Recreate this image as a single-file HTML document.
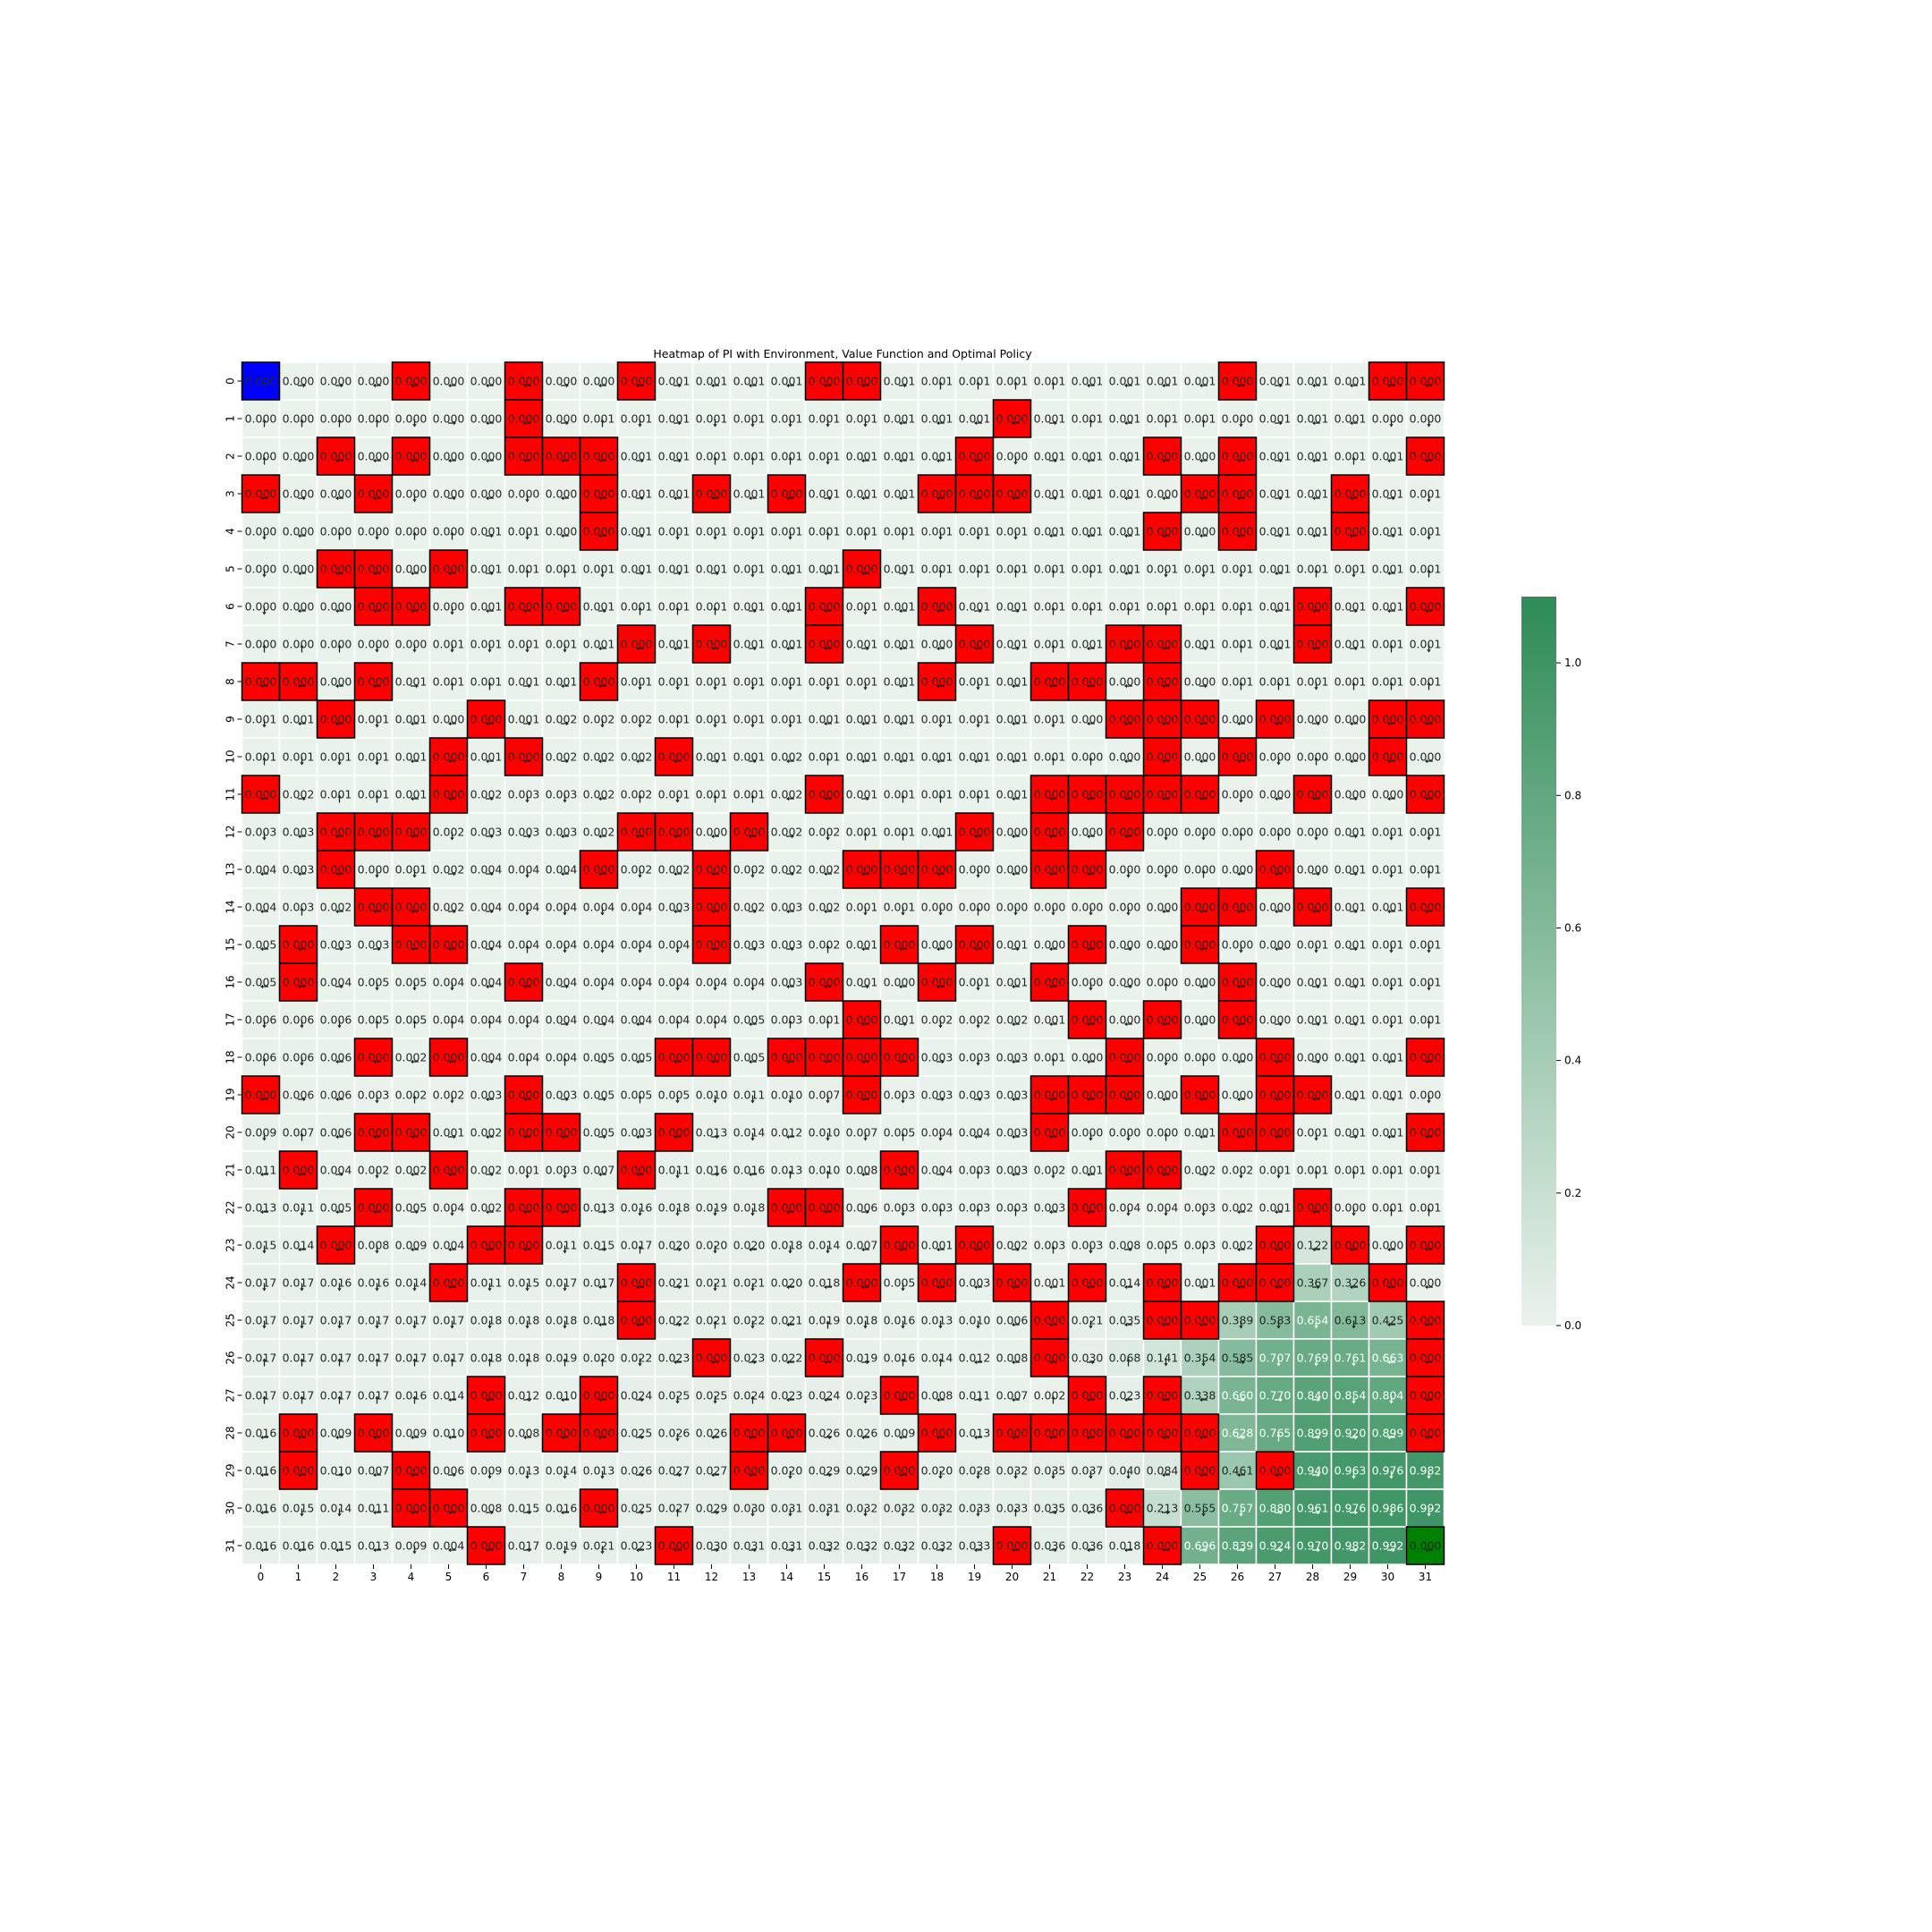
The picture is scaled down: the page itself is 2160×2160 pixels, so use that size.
<!DOCTYPE html>
<html><head><meta charset="utf-8"><title>Heatmap of PI</title>
<style>html,body{margin:0;padding:0;background:#fff}svg{display:block}</style></head>
<body>
<svg id="chart" width="2160" height="2160" viewBox="0 0 2160 2160" xmlns="http://www.w3.org/2000/svg" font-family="DejaVu Sans, Liberation Sans, sans-serif">
<rect x="0" y="0" width="2160" height="2160" fill="#fff"/>
<text x="942" y="400" text-anchor="middle" font-size="12.5" fill="#000">Heatmap of PI with Environment, Value Function and Optimal Policy</text>
<g id="cells"></g>
<g id="axes"></g>
<defs><linearGradient id="cbgrad" x1="0" y1="1" x2="0" y2="0"><stop offset="0" stop-color="rgb(234,242,236)"/><stop offset="1" stop-color="rgb(46,139,87)"/></linearGradient></defs>
<g id="cbar"></g>
</svg>
<script>
const cellTypes = [
"S...H..H..H....HH.........H...HH",
".......H............H...........",
"..H.H..HHH.........H....H.H....H",
"H..H.....H..H.H...HHH....HH..H..",
".........H..............H.H..H..",
"..HH.H..........H...............",
"...HH..HH......H..H.........H..H",
"..........H.H..H...H...HH...H...",
"HH.H.....H........H..HH.H.......",
"..H...H................HHH.H..HH",
".....H.H...H............H.H...H.",
"H....H.........H.....HHHHH..H..H",
"..HHH.....HH.H.....H.H.H........",
"..H......H..H...HHH..HH....H....",
"...HH.......H............HH.H..H",
".H..HH......H....H.H..H..H......",
".H.....H.......H..H..H....H.....",
"................H.....H.H.H.....",
"...H.H.....HH.HHHH.....H...H...H",
"H......H........H....HHH.H.HH...",
"...HH..HH..H.........H....HH...H",
".H...H....H......H.....HH.......",
"...H...HH.....HH......H.....H...",
"..H...HH.........H.H.......H.H.H",
".....H....H.....H.H.H.H.H.HH..H.",
"..........H..........H..HH.....H",
"............H..H.....H.........H",
"......H..H.......H....H.H......H",
".H.H..H.HH...HH...H.HHHHHH.....H",
".H..H........H...H.......H.H....",
"....HH...H.............H........",
"......H....H........H...H......G"
];
const policy = [
"urrlllllrllrlllllruuuulllllrllll",
"uuuudrllrudrdddddllllruluudrlldd",
"ulllllllllrruuudlllldrlllllrlull",
"lrlldrldllrllllrlllllrlllllrllrd",
"dluduurdllrdddduuudddllllllrllrd",
"dlllllruudrrrdlllruuuuuldddludlu",
"dlllldlllruuurlldllrruuuuuullrll",
"uuuddddddllllrllrlllrulllrullrud",
"llllruurlldddddddlldlllllruuduuu",
"dlldlllrrddudddlllddldllllllrlll",
"udddllllrlllrrlullllluulllldulll",
"lruullrddluduullruuulllllldllrll",
"dlllldrrllllllrduulllllldduudrdd",
"lllddrrdlldlldrlllldlllddullrrdu",
"lulllrrddddllrllddduddddlllllrll",
"llrrllruddddlrrullllrllrlldldrdd",
"llrdddllrdddddllrlldlldrullrrrdd",
"ddduuuudrrluuluulrddlllllllrrrdu",
"udllllruurllllllllrdlulldullrrll",
"lrldudllrrudddddldrrlllllllllrrd",
"dulllrlllrllrdlddudlllddullldrll",
"llrdllrddlldrluullruldlllrdduuud",
"ldllrdlllrddddllrduuulldddlllduu",
"dlldlllldrurdlddllllrudruullllll",
"dddddldddllrddllldllllllllllrlll",
"dddddddddllrudluddddlldlllddddll",
"uuuuuuuuuudllrllruulllruddrdddll",
"uuuuullrllrddulldllrlullllrrrddll",
"llllllllllrdlllrllllllllllrurrll",
"llrllrddddrrlldrllddddddllllrddd",
"lddlllrrllrurdddddddurllrddrrrdd",
"lllldllrddllrrrrrrrllrlllrrrrrrl"
];
const valuesMilli = [
[0,0,0,0,0,0,0,0,0,0,0,1,1,1,1,0,0,1,1,1,1,1,1,1,1,1,0,1,1,1,0,0],
[0,0,0,0,0,0,0,0,0,1,1,1,1,1,1,1,1,1,1,1,0,1,1,1,1,1,0,1,1,1,0,0],
[0,0,0,0,0,0,0,0,0,0,1,1,1,1,1,1,1,1,1,0,0,1,1,1,0,0,0,1,1,1,1,0],
[0,0,0,0,0,0,0,0,0,0,1,1,0,1,0,1,1,1,0,0,0,1,1,1,0,0,0,1,1,0,1,1],
[0,0,0,0,0,0,1,1,0,0,1,1,1,1,1,1,1,1,1,1,1,1,1,1,0,0,0,1,1,0,1,1],
[0,0,0,0,0,0,1,1,1,1,1,1,1,1,1,1,0,1,1,1,1,1,1,1,1,1,1,1,1,1,1,1],
[0,0,0,0,0,0,1,0,0,1,1,1,1,1,1,0,1,1,0,1,1,1,1,1,1,1,1,1,0,1,1,0],
[0,0,0,0,0,1,1,1,1,1,0,1,0,1,1,0,1,1,0,0,1,1,1,0,0,1,1,1,0,1,1,1],
[0,0,0,0,1,1,1,1,1,0,1,1,1,1,1,1,1,1,0,1,1,0,0,0,0,0,1,1,1,1,1,1],
[1,1,0,1,1,0,0,1,2,2,2,1,1,1,1,1,1,1,1,1,1,1,0,0,0,0,0,0,0,0,0,0],
[1,1,1,1,1,0,1,0,2,2,2,0,1,1,2,1,1,1,1,1,1,1,0,0,0,0,0,0,0,0,0,0],
[0,2,1,1,1,0,2,3,3,2,2,1,1,1,2,0,1,1,1,1,1,0,0,0,0,0,0,0,0,0,0,0],
[3,3,0,0,0,2,3,3,3,2,0,0,0,0,2,2,1,1,1,0,0,0,0,0,0,0,0,0,0,1,1,1],
[4,3,0,0,1,2,4,4,4,0,2,2,0,2,2,2,0,0,0,0,0,0,0,0,0,0,0,0,0,1,1,1],
[4,3,2,0,0,2,4,4,4,4,4,3,0,2,3,2,1,1,0,0,0,0,0,0,0,0,0,0,0,1,1,0],
[5,0,3,3,0,0,4,4,4,4,4,4,0,3,3,2,1,0,0,0,1,0,0,0,0,0,0,0,1,1,1,1],
[5,0,4,5,5,4,4,0,4,4,4,4,4,4,3,0,1,0,0,1,1,0,0,0,0,0,0,0,1,1,1,1],
[6,6,6,5,5,4,4,4,4,4,4,4,4,5,3,1,0,1,2,2,2,1,0,0,0,0,0,0,1,1,1,1],
[6,6,6,0,2,0,4,4,4,5,5,0,0,5,0,0,0,0,3,3,3,1,0,0,0,0,0,0,0,1,1,0],
[0,6,6,3,2,2,3,0,3,5,5,5,10,11,10,7,0,3,3,3,3,0,0,0,0,0,0,0,0,1,1,0],
[9,7,6,0,0,1,2,0,0,5,3,0,13,14,12,10,7,5,4,4,3,0,0,0,0,1,0,0,1,1,1,0],
[11,0,4,2,2,0,2,1,3,7,0,11,16,16,13,10,8,0,4,3,3,2,1,0,0,2,2,1,1,1,1,1],
[13,11,5,0,5,4,2,0,0,13,16,18,19,18,0,0,6,3,3,3,3,3,0,4,4,3,2,1,0,0,1,1],
[15,14,0,8,9,4,0,0,11,15,17,20,20,20,18,14,7,0,1,0,2,3,3,8,5,3,2,0,122,0,0,0],
[17,17,16,16,14,0,11,15,17,17,0,21,21,21,20,18,0,5,0,3,0,1,0,14,0,1,0,0,367,326,0,0],
[17,17,17,17,17,17,18,18,18,18,0,22,21,22,21,19,18,16,13,10,6,0,21,35,0,0,389,583,654,613,425,0],
[17,17,17,17,17,17,18,18,19,20,22,23,0,23,22,0,19,16,14,12,8,0,30,68,141,354,585,707,769,761,663,0],
[17,17,17,17,16,14,0,12,10,0,24,25,25,24,23,24,23,0,8,11,7,2,0,23,0,338,660,770,840,854,804,0],
[16,0,9,0,9,10,0,8,0,0,25,26,26,0,0,26,26,9,0,13,0,0,0,0,0,0,628,765,899,920,899,0],
[16,0,10,7,0,6,9,13,14,13,26,27,27,0,20,29,29,0,20,28,32,35,37,40,84,0,461,0,940,963,976,982],
[16,15,14,11,0,0,8,15,16,0,25,27,29,30,31,31,32,32,32,33,33,35,36,0,213,555,757,880,961,976,986,992],
[16,16,15,13,9,4,0,17,19,21,23,0,30,31,31,32,32,32,32,33,0,36,36,18,0,696,839,924,970,982,992,0]
];
const colorbarTicks = [0.0, 0.2, 0.4, 0.6, 0.8, 1.0];
const colorMax = 1.1;

const NS = "http://www.w3.org/2000/svg";
const GX = 270.5, GY = 405, CS = 42, N = 32;
const xPos = c => GX + c * CS;
const yPos = r => GY + r * CS;
const LO = [234,242,236], HI = [46,139,87];
function cmap(v){
  let t = Math.max(0, Math.min(1, v / colorMax));
  return LO.map((a,i)=>Math.round(a + (HI[i]-a)*t));
}
function lum(rgb){
  const f = rgb.map(c=>{c/=255;return c<=0.03928?c/12.92:Math.pow((c+0.055)/1.055,2.4);});
  return 0.2126*f[0]+0.7152*f[1]+0.0722*f[2];
}
function mk(tag, attrs, parent){
  const e = document.createElementNS(NS, tag);
  for (const k in attrs) e.setAttribute(k, attrs[k]);
  parent.appendChild(e);
  return e;
}
const cellsG = document.getElementById('cells');
const baseG = mk('g', {}, cellsG);
const overG = mk('g', {}, cellsG);
const annG = mk('g', {}, cellsG);
const DIRS = {u:[0,-1], d:[0,1], l:[-1,0], r:[1,0]};
for (let r = 0; r < N; r++){
  for (let c = 0; c < N; c++){
    const t = cellTypes[r][c];
    const v = valuesMilli[r][c] / 1000;
    let fill, col = cmap(v);
    if (t === 'H') fill = '#ff0000';
    else if (t === 'S') fill = '#0000ff';
    else if (t === 'G') fill = '#008000';
    else fill = `rgb(${col[0]},${col[1]},${col[2]})`;
    const special = t !== '.';
    const rect = mk('rect', {x:xPos(c), y:yPos(r), width:CS, height:CS, fill:fill,
      stroke: special ? '#000' : '#fff', 'stroke-width': 1.5}, special ? overG : baseG);
    
    
    const cx = xPos(c) + CS/2, cy = yPos(r) + CS/2;
    const dark = (t === '.' && lum(col) < 0.408);
    const txt = mk('text', {x:cx, y:cy, 'text-anchor':'middle', 'dominant-baseline':'central',
      'font-size':12.5, fill: dark ? '#ffffff' : '#262626'}, annG);
    txt.textContent = v.toFixed(3);
    
    
    const d = DIRS[policy[r][c]] || DIRS.l;
    const ax = cx + 4, ay = cy + 5, L = 4.5;
    const x1 = ax - d[0]*L, y1 = ay - d[1]*L, x2 = ax + d[0]*L, y2 = ay + d[1]*L;
    const px = -d[1], py = d[0];
    const hx = x2 - d[0]*3.2, hy = y2 - d[1]*3.2;
    const ink = dark ? '#ffffff' : '#222222';
    const arr = mk('g', {}, annG);
    
    
    mk('line', {x1:x1, y1:y1, x2:hx, y2:hy, stroke:ink, 'stroke-width':1.3}, arr);
    mk('polygon', {points:`${x2},${y2} ${hx+px*2.2},${hy+py*2.2} ${hx-px*2.2},${hy-py*2.2}`, fill:ink}, arr);
  }
}
const axesG = document.getElementById('axes');
for (let i = 0; i < N; i++){
  const yc = yPos(i) + CS/2;
  mk('line', {x1:GX-5, y1:yc, x2:GX, y2:yc, stroke:'#000', 'stroke-width':1}, axesG);
  const yl = mk('text', {x:0, y:0, transform:`translate(${GX-9},${yc}) rotate(-90)`, 'text-anchor':'middle', 'font-size':12, fill:'#000'}, axesG);
  yl.textContent = String(i);
  
  
  const xc = xPos(i) + CS/2, yb = GY + N*CS;
  mk('line', {x1:xc, y1:yb, x2:xc, y2:yb+5, stroke:'#000', 'stroke-width':1}, axesG);
  const xl = mk('text', {x:xc, y:yb+18, 'text-anchor':'middle', 'font-size':12, fill:'#000'}, axesG);
  xl.textContent = String(i);
  
  
}
const cb = document.getElementById('cbar');
const CBX = 1701, CBW = 39, CBT = 667, CBB = 1482;
const cbY = v => CBB - (v / colorMax) * (CBB - CBT);
const cbr = mk('rect', {x:CBX, y:CBT, width:CBW, height:CBB-CBT, fill:'url(#cbgrad)'}, cb);


colorbarTicks.forEach(v=>{
  const y = cbY(v);
  mk('line', {x1:CBX+CBW, y1:y, x2:CBX+CBW+5, y2:y, stroke:'#000', 'stroke-width':1}, cb);
  const tl = mk('text', {x:CBX+CBW+9, y:y, 'dominant-baseline':'central', 'font-size':12, fill:'#000'}, cb);
  tl.textContent = v.toFixed(1);
  
  
});
</script>
</body></html>
